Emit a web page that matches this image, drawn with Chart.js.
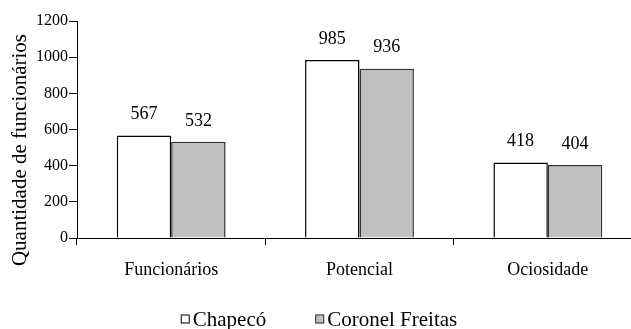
<!DOCTYPE html>
<html>
<head>
<meta charset="utf-8">
<script src="https://cdn.jsdelivr.net/npm/chart.js@4/dist/chart.umd.min.js"></script>
<style>
  html, body { margin: 0; padding: 0; background: #fff; overflow: hidden; }
  #wrap { width: 631px; height: 329px; overflow: hidden; position: relative; }
</style>
</head>
<body>
<div id="wrap">
  <canvas id="chart" width="660" height="329"></canvas>
</div>
<script>
const categories = ["Funcionários", "Potencial", "Ociosidade"];
const chapeco = [567, 985, 418];
const coronelFreitas = [532, 936, 404];
const seriesNames = ["Chapecó", "Coronel Freitas"];
const yTicks = [0, 200, 400, 600, 800, 1000, 1200];
const yTitle = "Quantidade de funcionários";

const FONT = "'Liberation Serif', 'Times New Roman', serif";

// valores em cima das barras
const valueLabels = {
  id: "valueLabels",
  afterDatasetsDraw(chart) {
    const ctx = chart.ctx;
    ctx.save();
    ctx.font = "18px " + FONT;
    ctx.fillStyle = "#000";
    ctx.textAlign = "center";
    ctx.textBaseline = "middle";
    chart.data.datasets.forEach((ds, i) => {
      chart.getDatasetMeta(i).data.forEach((bar, j) => {
        ctx.fillText(String(ds.data[j]), bar.x, bar.y - 21);
      });
    });
    ctx.restore();
  },
};

// titulo do eixo y
const yAxisTitle = {
  id: "yAxisTitle",
  afterDraw(chart) {
    const ctx = chart.ctx;
    ctx.save();
    ctx.translate(20, 150);
    ctx.rotate(-Math.PI / 2);
    ctx.font = "21px " + FONT;
    ctx.fillStyle = "#000";
    ctx.textAlign = "center";
    ctx.textBaseline = "middle";
    ctx.fillText(yTitle, 0, 0);
    ctx.restore();
  },
};

// legenda embaixo
const bottomLegend = {
  id: "bottomLegend",
  afterDraw(chart) {
    const ctx = chart.ctx;
    ctx.save();
    ctx.font = "21px " + FONT;
    const box = 9, gapText = 3, gapItem = 49, y = 319;
    const widths = chart.data.datasets.map((ds) => box + gapText + ctx.measureText(ds.label).width);
    const total = widths.reduce((a, b) => a + b, 0) + gapItem * (widths.length - 1);
    let x = 319 - total / 2;
    chart.data.datasets.forEach((ds, i) => {
      ctx.fillStyle = ds.backgroundColor;
      ctx.fillRect(x, y - box / 2, box, box);
      ctx.strokeStyle = ds.borderColor;
      ctx.lineWidth = 1;
      ctx.strokeRect(x + 0.5, y - box / 2 + 0.5, box - 1, box - 1);
      ctx.fillStyle = "#000";
      ctx.textBaseline = "middle";
      ctx.textAlign = "left";
      ctx.fillText(ds.label, x + box + gapText, y + 1);
      x += widths[i] + gapItem;
    });
    ctx.restore();
  },
};

new Chart(document.getElementById("chart"), {
  type: "bar",
  data: {
    labels: categories,
    datasets: [
      {
        label: seriesNames[0],
        data: chapeco,
        backgroundColor: "#ffffff",
        borderColor: "#000000",
        borderWidth: 1.5,
      },
      {
        label: seriesNames[1],
        data: coronelFreitas,
        backgroundColor: "#c0c0c0",
        borderColor: "#333333",
        borderWidth: 1.5,
      },
    ],
  },
  options: {
    responsive: false,
    animation: false,
    layout: { padding: { top: 21, right: 18, left: 0, bottom: 0 } },
    datasets: { bar: { categoryPercentage: 0.578, barPercentage: 1 } },
    plugins: {
      legend: { display: false },
      tooltip: { enabled: false },
    },
    scales: {
      x: {
        grid: { display: true, drawOnChartArea: false, color: "#000", tickLength: 7, offset: true },
        border: { display: true, color: "#000", width: 1 },
        ticks: { color: "#000", font: { family: FONT, size: 18 }, padding: 14, maxRotation: 0 },
        afterFit(scale) { scale.height = 91; },
      },
      y: {
        min: 0,
        max: 1200,
        afterBuildTicks(scale) { scale.ticks = yTicks.map((v) => ({ value: v })); },
        grid: { display: true, drawOnChartArea: false, color: "#000", tickLength: 8 },
        border: { display: true, color: "#000", width: 1 },
        ticks: {
          color: "#000",
          font: { family: FONT, size: 16 },
          padding: 1,
          callback: (v) => String(v),
        },
        afterFit(scale) { scale.width = 77; },
      },
    },
  },
  plugins: [valueLabels, yAxisTitle, bottomLegend],
});
</script>
</body>
</html>
